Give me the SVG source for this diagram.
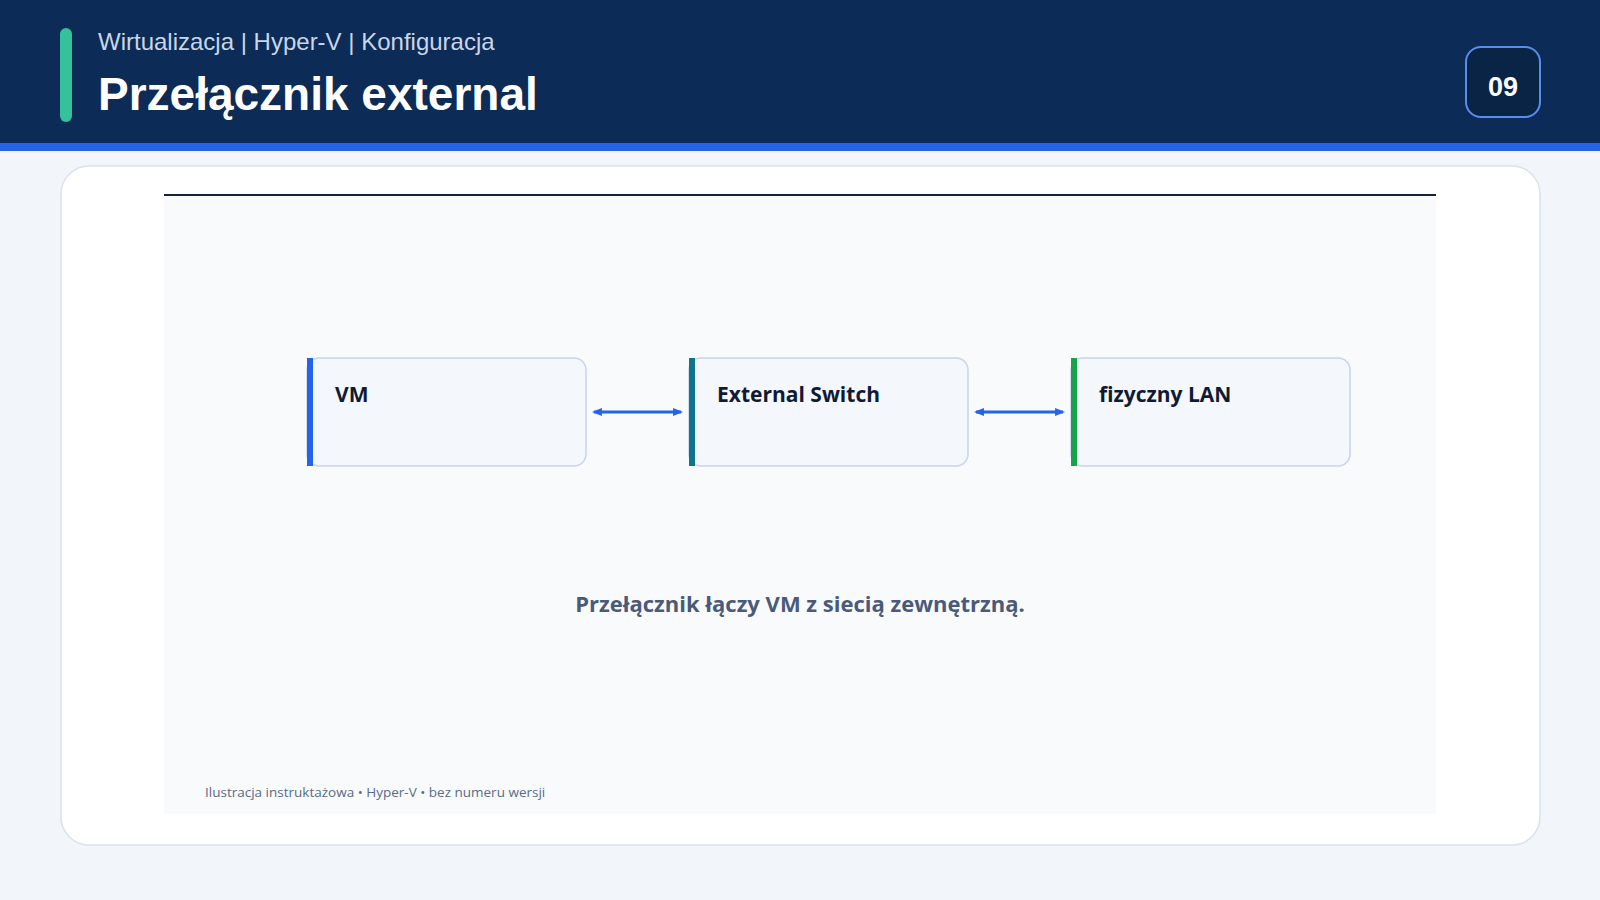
<svg xmlns="http://www.w3.org/2000/svg" width="1600" height="900" viewBox="0 0 1600 900">
<defs>
<style>
.hdr{font-family:"Liberation Sans",Arial,sans-serif}
.ui{font-family:"Open Sans","Noto Sans",sans-serif}
.node rect.box{fill:#f4f7fc;stroke:#c7d4ea;stroke-width:1.5}
.lbl{font-size:21px;font-weight:700;fill:#0f1b33}
.conn{stroke:#2563eb;stroke-width:3;fill:none;marker-start:url(#ah);marker-end:url(#ah)}
</style>
<marker id="ah" viewBox="0 0 10 10" refX="8" refY="5" markerWidth="3.3" markerHeight="3.3" orient="auto-start-reverse">
<path d="M0,1 L10,5 L0,9 z" fill="#2563eb"/>
</marker>
</defs>
<rect width="1600" height="900" fill="#f2f5fa"/>
<g id="header">
<rect x="0" y="0" width="1600" height="143" fill="#0c2b56"/>
<rect x="0" y="143" width="1600" height="8" fill="#2563eb"/>
<rect x="60" y="28" width="12" height="94" rx="6" fill="#34c19c"/>
<text class="hdr" x="98" y="50" font-size="24" fill="#c9d6e8">Wirtualizacja | Hyper-V | Konfiguracja</text>
<text class="hdr" x="98" y="110" font-size="46" font-weight="700" fill="#ffffff">Przełącznik external</text>
<rect x="1466" y="47" width="74" height="70" rx="15" fill="#0a2446" stroke="#5b8def" stroke-width="2"/>
<text class="hdr" x="1503" y="96" font-size="27" font-weight="700" fill="#ffffff" text-anchor="middle">09</text>
</g>
<g id="card">
<rect x="61" y="166" width="1479" height="679" rx="28" fill="#ffffff" stroke="#d9e2ee" stroke-width="1.5"/>
<rect x="164" y="195" width="1272" height="619" fill="#f8fafc"/>
<line x1="164" y1="195" x2="1436" y2="195" stroke="#15223d" stroke-width="2"/>
</g>
<g id="node-vm" class="node">
<rect class="box" x="307" y="358" width="279" height="108" rx="12"/>
<rect x="307" y="358" width="6" height="108" fill="#2563eb"/>
<text class="ui lbl" x="335" y="402">VM</text>
</g>
<g id="node-switch" class="node">
<rect class="box" x="689" y="358" width="279" height="108" rx="12"/>
<rect x="689" y="358" width="6" height="108" fill="#0e7490"/>
<text class="ui lbl" x="717" y="402">External Switch</text>
</g>
<g id="node-lan" class="node">
<rect class="box" x="1071" y="358" width="279" height="108" rx="12"/>
<rect x="1071" y="358" width="6" height="108" fill="#16a34a"/>
<text class="ui lbl" x="1099" y="402">fizyczny LAN</text>
</g>
<g id="connectors">
<line class="conn" x1="594" y1="412" x2="681" y2="412"/>
<line class="conn" x1="976" y1="412" x2="1063" y2="412"/>
</g>
<text class="ui" x="800" y="612" font-size="22" font-weight="700" fill="#4a5a78" text-anchor="middle">Przełącznik łączy VM z siecią zewnętrzną.</text>
<text class="ui" x="205" y="797" font-size="13.5" fill="#5b6b85">Ilustracja instruktażowa • Hyper-V • bez numeru wersji</text>
</svg>
